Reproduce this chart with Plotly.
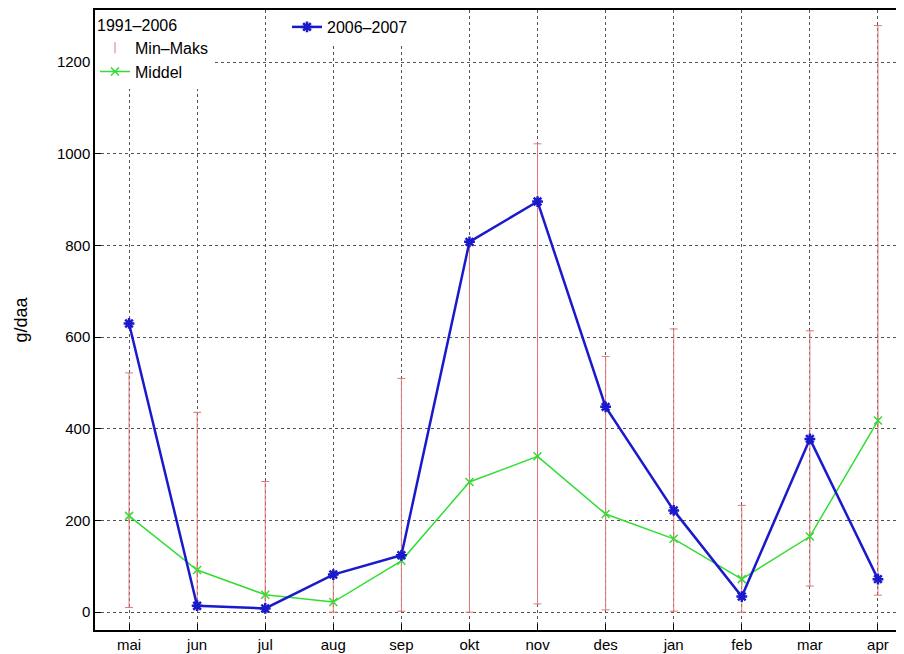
import plotly.graph_objects as go

months = ['mai', 'jun', 'jul', 'aug', 'sep', 'okt', 'nov', 'des', 'jan', 'feb', 'mar', 'apr']
middel = [210, 92, 38, 22, 112, 284, 340, 214, 160, 72, 165, 418]
min_val = [10, 5, 0, 0, 2, 0, 18, 5, 2, 0, 57, 37]
maks_val = [522, 436, 285, 80, 510, 808, 1022, 558, 618, 233, 614, 1280]
y2006 = [630, 14, 8, 82, 124, 808, 896, 448, 222, 34, 378, 72]

x = list(range(len(months)))

fig = go.Figure()

# Min-Maks som feilstolper rundt middel
fig.add_trace(go.Scatter(
    x=x, y=middel, mode='markers', name='Min\u2013Maks',
    marker=dict(symbol='line-ns', size=8, color='#e07878', line=dict(width=1, color='#e07878')),
    error_y=dict(type='data', symmetric=False,
                 array=[mx - m for mx, m in zip(maks_val, middel)],
                 arrayminus=[m - mn for m, mn in zip(middel, min_val)],
                 color='#e07878', thickness=1, width=4),
    legend='legend'
))

fig.add_trace(go.Scatter(
    x=x, y=middel, mode='lines+markers', name='Middel',
    line=dict(color='#33dd33', width=1.5),
    marker=dict(symbol='x-thin', size=8, line=dict(width=1.5, color='#33dd33')),
    legend='legend'
))

fig.add_trace(go.Scatter(
    x=x, y=y2006, mode='lines+markers', name='2006\u20132007',
    line=dict(color='#1a1acc', width=2.5),
    marker=dict(symbol='asterisk-open', size=9, line=dict(width=2.5, color='#1a1acc')),
    legend='legend2'
))

grid = dict(showgrid=True, gridcolor='#555', griddash='dot', gridwidth=1,
            showline=True, linecolor='black', linewidth=1.5, mirror=True,
            ticks='inside', ticklen=6, tickcolor='black', zeroline=False,
            automargin=False)

fig.update_layout(
    width=904, height=654,
    paper_bgcolor='white', plot_bgcolor='white',
    margin=dict(l=87, r=0, t=2, b=32),
    font=dict(family='Liberation Sans, Arial', size=15, color='black'),
    xaxis=dict(tickmode='array', tickvals=x, ticktext=months, range=[-0.5, 11.5], **grid),
    yaxis=dict(title=dict(text='g/daa', standoff=25), range=[-39, 1314],
               tickvals=[0, 200, 400, 600, 800, 1000, 1200], **grid),
    legend=dict(title=dict(text='1991\u20132006', font=dict(size=16)), x=0.0, y=1.0,
                xanchor='left', yanchor='top',
                bgcolor='white', tracegroupgap=0, font=dict(size=16)),
    legend2=dict(x=0.235, y=1.0, xanchor='left', yanchor='top', bgcolor='white',
                 font=dict(size=16)),
)

fig.write_html('out.html')
